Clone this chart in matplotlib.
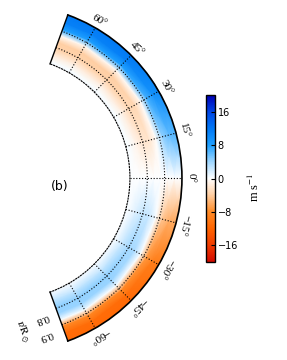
import numpy as np
import matplotlib
matplotlib.use('Agg')
import matplotlib.pyplot as plt
from matplotlib.colors import LinearSegmentedColormap

plt.rcParams['mathtext.fontset'] = 'stix'

# Nós de latitude (graus) e de raio (r/Rsol)
lat = np.array([-75, -60, -45, -30, -15, 0, 15, 30, 45, 60, 75])
raio = np.array([0.68, 0.72, 0.76, 0.80, 0.84, 0.88, 0.92, 0.96, 1.02])

# Perfis radiais em alta latitude (m/s)
perfil_norte = np.array([0.5, 0.3, -1.5, -3.5, -3.8, -0.5, 8.0, 11.0, 12.0])
perfil_sul = np.array([0.3, 0.8, 2.8, 4.5, 4.2, 0.3, -8.5, -11.0, -11.5])
# Peso com a latitude
peso = np.array([1.0, 1.0, 1.0, 0.85, 0.55, 0.0, 0.55, 0.85, 1.0, 1.0, 1.0])

theta_ticks = [-60, -45, -30, -15, 0, 15, 30, 45, 60]
r_ticks = [0.8, 0.9]
cbar_ticks = [-16, -8, 0, 8, 16]

# Mapa de cores (vermelho -> branco -> azul)
cores = ['#d20a00', '#f03c00', '#ff6400', '#ff8c28', '#ffcda0', '#ffffff',
         '#a0d7ff', '#1ea0ff', '#0078f5', '#0046e6', '#0000b4']
cmap = LinearSegmentedColormap.from_list('vel', cores)

# Campo de velocidade
campo = np.where(lat[None, :] < 0,
                 perfil_sul[:, None] * peso[None, :],
                 perfil_norte[:, None] * peso[None, :])
TH, RR = np.meshgrid(np.deg2rad(lat), raio)

fig = plt.figure(figsize=(2.87, 3.6), dpi=100)
ax = fig.add_axes([-0.1638, 0.0528, 1.1359, 0.9056], projection='polar')
malha = ax.pcolormesh(TH, RR, campo, shading='gouraud', cmap=cmap, vmin=-20, vmax=20)

ax.set_thetamin(-70)
ax.set_thetamax(70)
ax.set_rlim(0.7, 1.0)
ax.set_rorigin(0)

ax.set_thetagrids(theta_ticks, labels=[])
ax.set_rgrids(r_ticks, labels=[])
ax.grid(True, color='k', linestyle=(0, (1, 1.6)), linewidth=0.8)
ax.tick_params(length=0)

ax.spines['polar'].set_linewidth(1.2)
ax.spines['start'].set_linewidth(1.0)
ax.spines['end'].set_linewidth(1.0)
ax.spines['inner'].set_linewidth(0.8)
ax.spines['inner'].set_linestyle((0, (1, 1.6)))

# Rótulos de latitude
for a in theta_ticks:
    txt = f'{a}°'.replace('-', '\u2212')
    ax.text(np.deg2rad(a), 1.05, txt, rotation=a - 90, ha='center', va='center',
            rotation_mode='anchor', fontsize=8, family='Liberation Serif')

# Rótulos de raio
for rv in r_ticks:
    ax.text(np.deg2rad(-76.5), rv + 0.035, f'{rv}', rotation=-160, ha='center',
            va='center', rotation_mode='anchor', fontsize=8, family='Liberation Serif')
ax.text(np.deg2rad(-85), 0.89, r'$\mathrm{r/R}_\odot$', rotation=-70, ha='center',
        va='center', rotation_mode='anchor', fontsize=8)

fig.text(60 / 287, 1 - 186 / 360, '(b)', ha='center', va='center', fontsize=9)

# Barra de cores
cax = fig.add_axes([0.7178, 0.2722, 0.0314, 0.4639])
cb = fig.colorbar(malha, cax=cax, ticks=cbar_ticks)
cb.ax.tick_params(direction='in', length=3, width=0.8, labelsize=7, pad=2)
cb.outline.set_linewidth(1.0)
cax.text(5.33, 0.45, 'm s$^{-1}$', rotation=90, ha='center', va='center',
         transform=cax.transAxes, fontsize=9, family='Liberation Serif')

fig.savefig('out.png', dpi=100)
